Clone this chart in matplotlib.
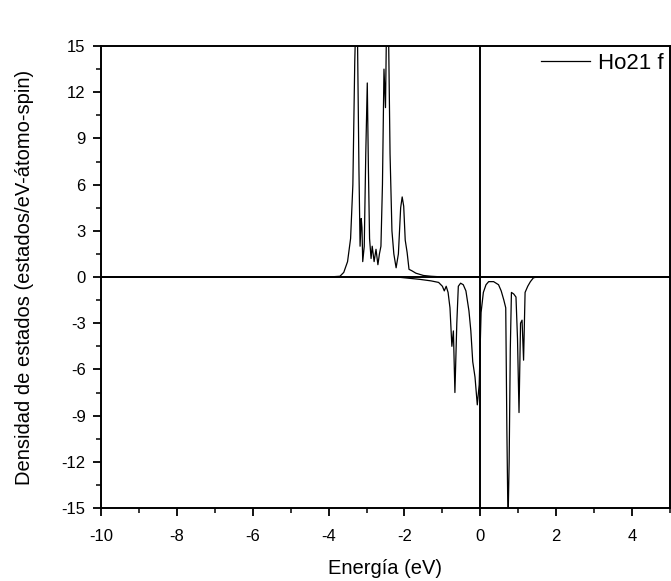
import matplotlib
matplotlib.use("Agg")
import matplotlib.pyplot as plt
from matplotlib.ticker import MultipleLocator

plt.rcParams['font.family'] = ['Liberation Sans', 'DejaVu Sans']
plt.rcParams['axes.unicode_minus'] = False

# spin up
e_up = [-10, -4.0, -3.7, -3.6, -3.5, -3.42, -3.36, -3.31, -3.28, -3.24, -3.2, -3.17,
        -3.14, -3.12, -3.1, -3.06, -3.02, -2.98, -2.95, -2.92, -2.88, -2.85, -2.8,
        -2.75, -2.7, -2.66, -2.62, -2.58, -2.54, -2.5, -2.47, -2.42, -2.38, -2.33,
        -2.28, -2.22, -2.16, -2.1, -2.06, -2.02, -1.98, -1.93, -1.88, -1.8, -1.7,
        -1.5, -1.3, -1.1, -0.9, 5]
dos_up = [0, 0.0, 0.05, 0.3, 1.0, 2.5, 6, 14, 17, 16, 7, 2,
          3.8, 3.2, 1.0, 2, 8, 12.6, 7, 2.5, 1.2, 2.0, 1.0,
          1.8, 0.8, 1.5, 2.0, 6, 13.5, 11, 17, 16, 8, 3,
          1.5, 0.6, 1.5, 4.5, 5.2, 4.6, 2.4, 1.6, 0.5, 0.4, 0.25,
          0.1, 0.05, 0.02, 0, 0]

# spin down
e_dn = [-10, -2.2, -2.0, -1.6, -1.3, -1.1, -1.0, -0.95, -0.9, -0.85, -0.8, -0.75,
        -0.71, -0.67, -0.62, -0.58, -0.52, -0.45, -0.38, -0.3, -0.25, -0.2, -0.14,
        -0.08, -0.03, 0.02, 0.08, 0.15, 0.22, 0.35, 0.48, 0.55, 0.62, 0.67, 0.7,
        0.73, 0.76, 0.79, 0.82, 0.88, 0.94, 0.98, 1.02, 1.06, 1.1, 1.14, 1.18,
        1.25, 1.32, 1.4, 1.5, 5]
dos_dn = [0, 0, -0.05, -0.15, -0.25, -0.35, -0.6, -0.9, -0.6, -1.0, -2.0, -4.5,
          -3.5, -7.5, -3.0, -0.6, -0.4, -0.5, -0.9, -2.2, -3.5, -5.5, -6.5,
          -8.3, -7.0, -2.3, -1.0, -0.5, -0.3, -0.3, -0.5, -0.9, -1.5, -2.0, -10,
          -16, -12, -4.7, -1.0, -1.1, -1.3, -4, -8.8, -3.0, -2.8, -5.4, -1.0,
          -0.6, -0.3, -0.05, 0, 0]

fig = plt.figure(figsize=(6.71, 5.81), dpi=100)
ax = fig.add_axes([0.1505, 0.1256, 0.8480, 0.7952])

ax.plot(e_up, dos_up, color='black', lw=0.9, label='Ho21 f')
ax.plot(e_dn, dos_dn, color='black', lw=0.9)
ax.axhline(0, color='black', lw=1.4)
ax.axvline(0, color='black', lw=1.4)

ax.set_xlim(-10, 5)
ax.set_ylim(-15, 15)
ax.xaxis.set_major_locator(MultipleLocator(2))
ax.xaxis.set_minor_locator(MultipleLocator(1))
ax.yaxis.set_major_locator(MultipleLocator(3))
ax.yaxis.set_minor_locator(MultipleLocator(1.5))
ax.tick_params(which='major', direction='out', length=6, width=1.3,
               labelsize=12, pad=5)
ax.tick_params(axis='x', which='major', pad=9)
ax.tick_params(which='minor', direction='out', length=3.5, width=1.1)
for s in ax.spines.values():
    s.set_linewidth(1.4)

ax.set_xlabel('Energía (eV)', fontsize=14.5, labelpad=11)
ax.set_ylabel('Densidad de estados (estados/eV-átomo-spin)', fontsize=14.5,
              labelpad=20)
ax.legend(loc='upper right', frameon=False, fontsize=16, handlelength=2.2,
          handletextpad=0.35, borderaxespad=0.0, borderpad=0.3)

fig.savefig('out.png', dpi=100)
